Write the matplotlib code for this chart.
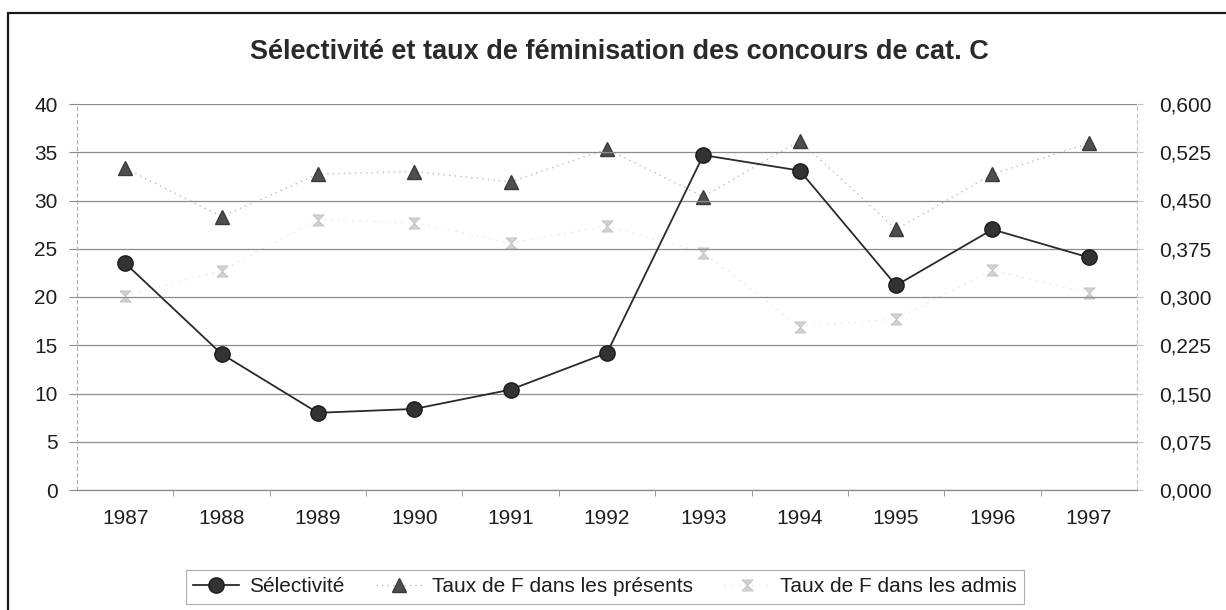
import matplotlib.pyplot as plt
import matplotlib.ticker as mticker
from matplotlib.patches import Rectangle

plt.rcParams['font.family'] = ['Liberation Sans', 'DejaVu Sans']

years = ['1987', '1988', '1989', '1990', '1991', '1992', '1993', '1994', '1995', '1996', '1997']
selectivite = [23.5, 14.1, 8.0, 8.4, 10.4, 14.2, 34.7, 33.1, 21.2, 27.0, 24.1]
taux_presents = [0.500, 0.425, 0.491, 0.495, 0.479, 0.530, 0.456, 0.543, 0.405, 0.491, 0.539]
taux_admis = [0.302, 0.341, 0.420, 0.415, 0.384, 0.410, 0.369, 0.254, 0.266, 0.342, 0.306]

x = list(range(len(years)))
txt = '#1e1e1e'

fig = plt.figure(figsize=(12.26, 6.10), dpi=100)
ax = fig.add_axes([77 / 1226, 120 / 610, 1060 / 1226, 386 / 610])
ax2 = ax.twinx()

# grid
ax.set_ylim(0, 40)
ax.set_yticks(range(0, 41, 5))
ax.yaxis.grid(True, color='#8c8c8c', lw=0.9)
ax.set_axisbelow(True)
ax.set_xlim(-0.5, len(years) - 0.5)
ax2.set_ylim(0, 0.6)
ax2.set_yticks([i * 0.075 for i in range(9)])
ax2.yaxis.set_major_formatter(mticker.FuncFormatter(lambda v, p: f'{v:.3f}'.replace('.', ',')))

# series
ax2.plot(x, taux_admis, ls=(0, (1, 4)), color='#e6e6e6', lw=1,
         marker=[(-1, 1), (1, 1), (-1, -1), (1, -1), (-1, 1)], ms=8,
         mfc='#d2d2d2', mec='#c0c0c0', mew=0.6, label='Taux de F dans les admis', zorder=3)
ax2.plot(x, taux_presents, ls=(0, (1, 3)), color='#bcbcbc', lw=1,
         marker='^', ms=10, mfc='#4e4e4e', mec='#3a3a3a', label='Taux de F dans les présents', zorder=4)
ax.plot(x, selectivite, color='#2a2a2a', lw=1.3, marker='o', ms=11,
        mfc='#333333', mec='#1a1a1a', label='Sélectivité', zorder=5)
ax.set_zorder(ax2.get_zorder() + 1)
ax.patch.set_visible(False)

# axes styling
for a in (ax, ax2):
    a.spines['top'].set_visible(False)
    a.spines['left'].set_visible(False)
    a.spines['right'].set_visible(False)
    a.spines['bottom'].set_color('#8c8c8c')
ax.spines['left'].set_visible(True)
ax.spines['left'].set_color('#b0b0b0')
ax.spines['left'].set_linestyle((0, (3, 3)))
ax2.spines['right'].set_visible(True)
ax2.spines['right'].set_color('#c4c4c4')
ax2.spines['right'].set_linestyle((0, (3, 3)))

ax.set_xticks(x)
ax.set_xticklabels(years)
ax.set_xticks([i + 0.5 for i in x[:-1]], minor=True)
ax.tick_params(axis='x', which='major', length=0, pad=14, labelsize=15, labelcolor=txt)
ax.tick_params(axis='x', which='minor', length=4, color='#8c8c8c')
ax.tick_params(axis='y', length=6, color='#8c8c8c', labelsize=15, labelcolor=txt, pad=8)
ax2.tick_params(axis='y', length=4, color='#c4c4c4', labelsize=15, labelcolor=txt, pad=12)

fig.text(619 / 1226, 1 - 52 / 610, 'Sélectivité et taux de féminisation des concours de cat. C',
         ha='center', va='center', fontsize=19.5, fontweight='bold', color='#2a2a2a')

h1, l1 = ax.get_legend_handles_labels()
h2, l2 = ax2.get_legend_handles_labels()
leg = fig.legend(h1 + h2[::-1], l1 + l2[::-1], loc='center', bbox_to_anchor=(605 / 1226, 1 - 587 / 610),
                 ncol=3, fontsize=15, frameon=True, fancybox=False, handlelength=2.2,
                 columnspacing=1.5, handletextpad=0.5, borderpad=0.35)
leg.get_frame().set_edgecolor('#9a9a9a')
leg.get_frame().set_linewidth(0.8)
for t in leg.get_texts():
    t.set_color(txt)

# outer chart frame (right and bottom edges lie outside the scan)
fig.patches.append(Rectangle((8 / 1226, -0.2), 1.2, 1.2 - 13 / 610, transform=fig.transFigure,
                             fill=False, ec='#1a1a1a', lw=1.6))

fig.savefig('out.png', dpi=100, facecolor='white')
